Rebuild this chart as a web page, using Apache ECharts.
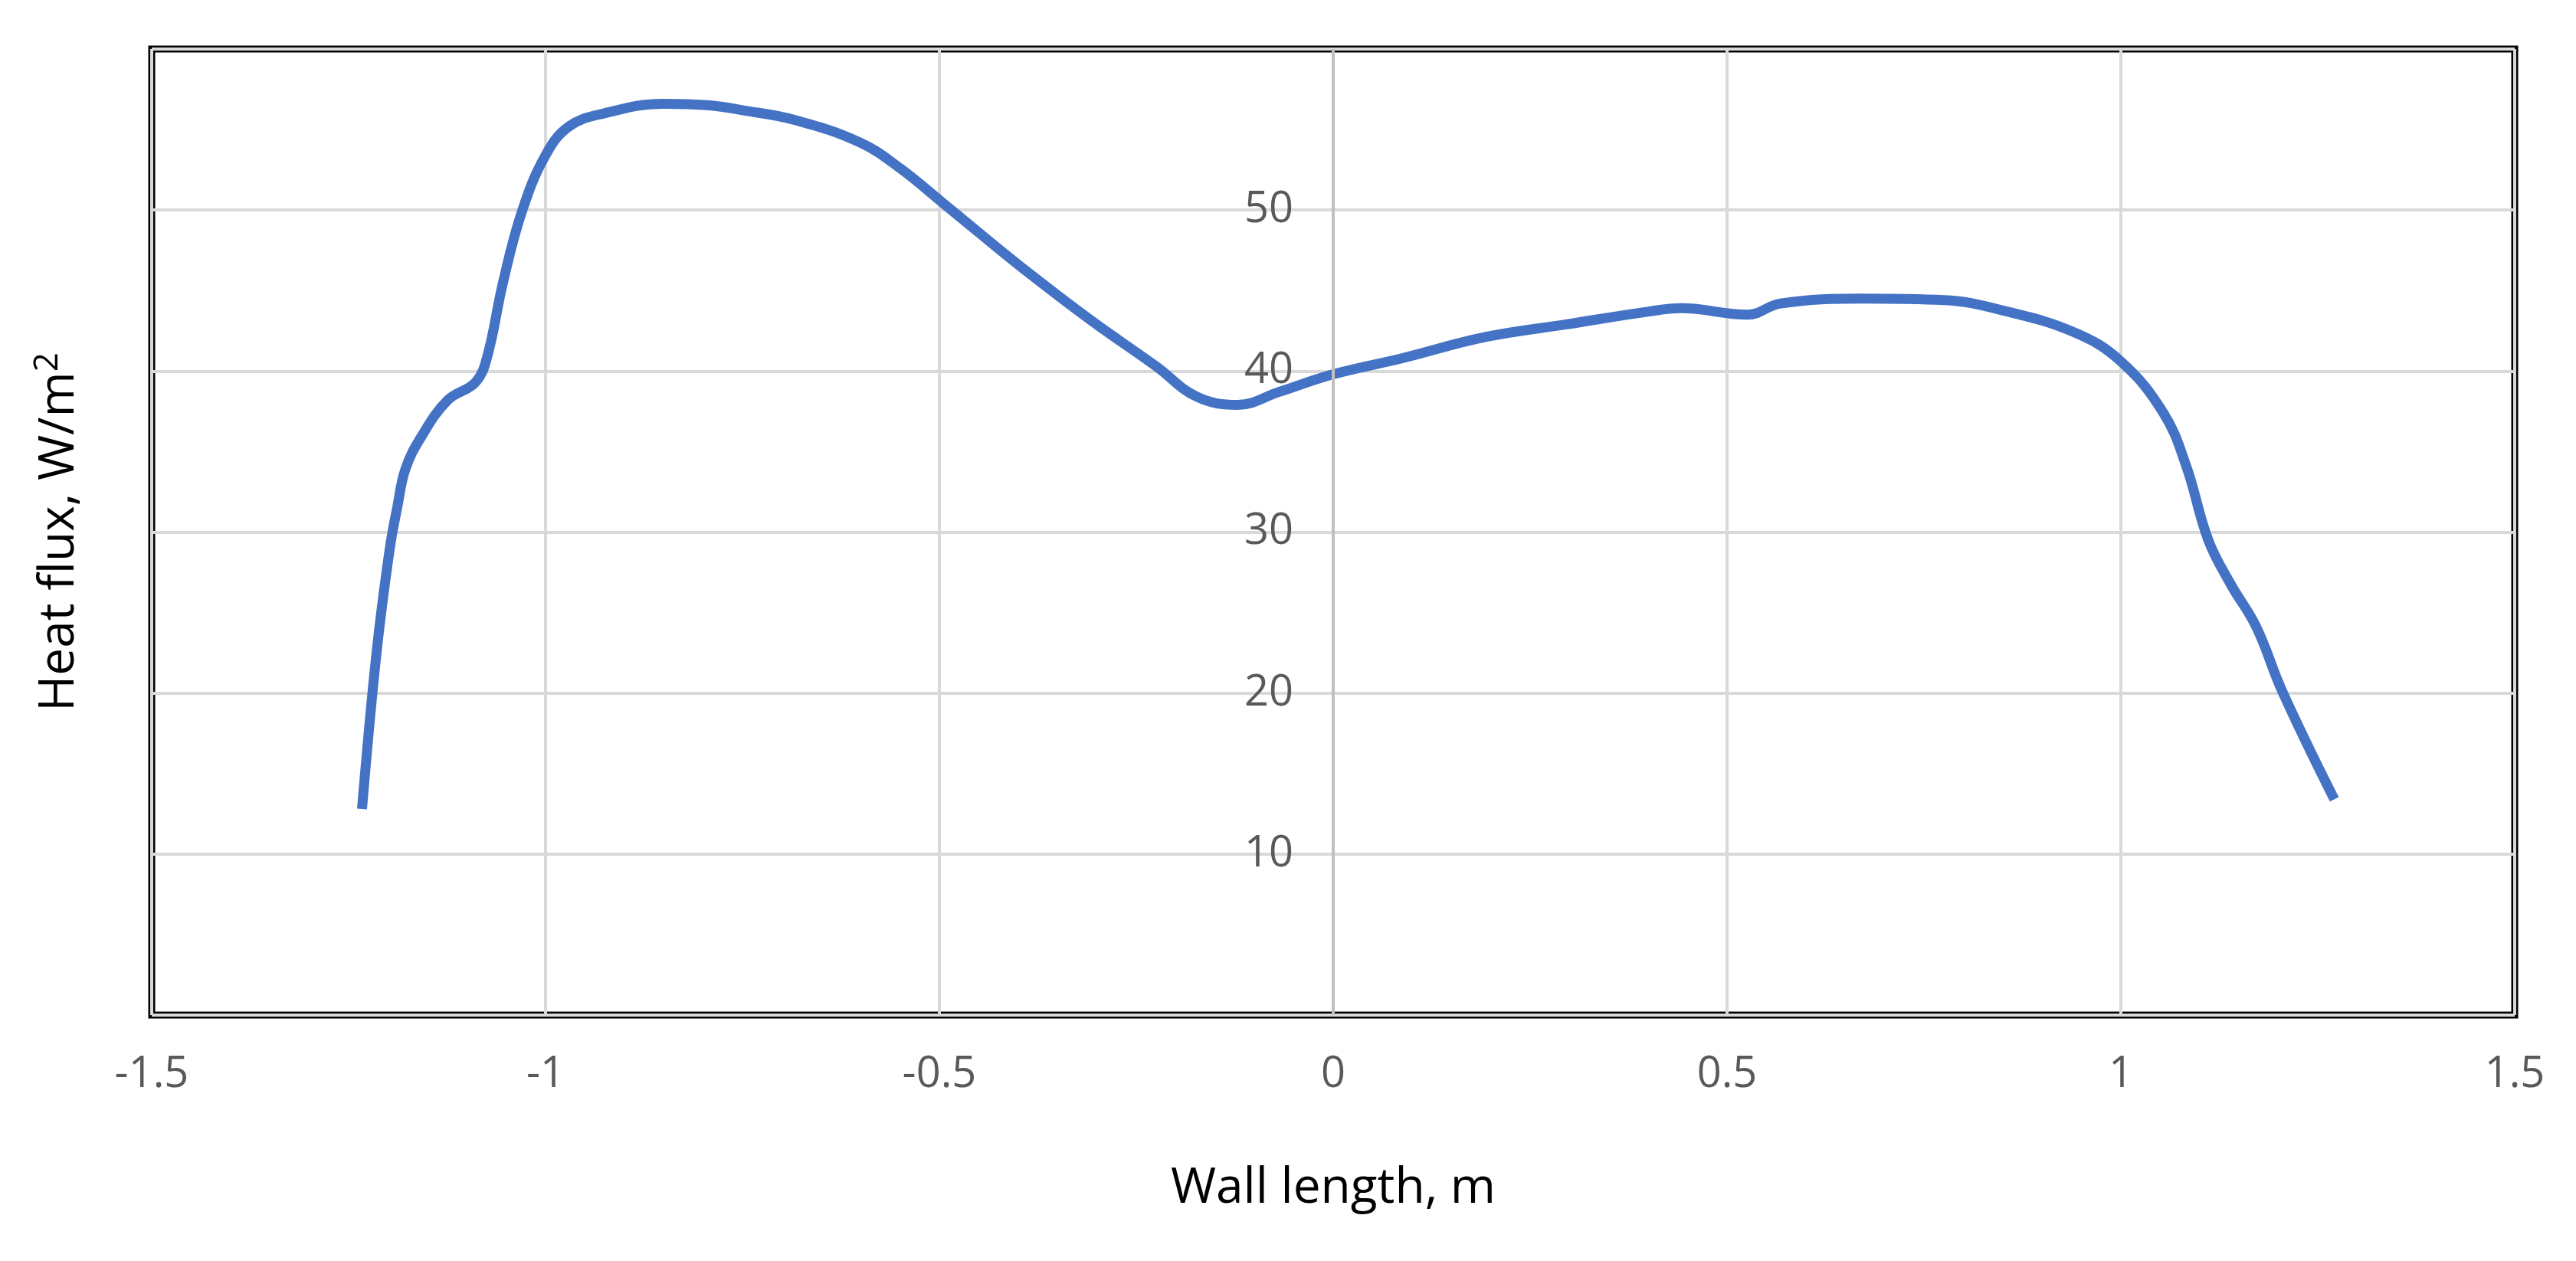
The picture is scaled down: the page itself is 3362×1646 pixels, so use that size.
<!DOCTYPE html>
<html>
<head>
<meta charset="utf-8">
<script src="https://cdn.jsdelivr.net/npm/echarts@6/dist/echarts.min.js"></script>
<style>html,body{margin:0;background:#fff}#c{width:3362px;height:1646px}</style>
</head>
<body>
<div id="c"></div>
<script>
var wallX = [-1.233,-1.215,-1.198,-1.188,-1.178,-1.158,-1.124,-1.089,-1.074,-1.054,-1.030,-1.000,-0.970,-0.926,-0.851,-0.792,
	-0.75,-0.684,-0.601,-0.55,-0.497,-0.45,-0.392,-0.309,-0.225,-0.173,-0.121,-0.069,0,0.088,0.192,0.296,0.401,0.442,0.526,0.568,0.672,0.776,
	0.847,0.941,1.0,1.054,1.083,1.111,1.139,1.172,1.205,1.271];
var heatFlux = [12.8,22.3,28.9,31.6,33.9,35.9,38.2,39.3,40.9,45.5,49.9,53.4,55.2,56.0,56.6,56.5,
	56.2,55.6,54.2,52.6,50.5,48.6,46.3,43.2,40.3,38.4,37.9,38.7,39.8,40.8,42.1,42.9,43.7,43.9,43.5,44.2,44.5,44.4,
	43.8,42.4,40.6,37.4,34.1,29.5,26.8,24.1,20.1,13.4];
var yTicks = [10,20,30,40,50];

var pts = wallX.map(function(x,i){ return [x, heatFlux[i]]; });
var chart = echarts.init(document.getElementById('c'));
var font = 'Open Sans';
chart.setOption({
	animation:false,
	grid:{left:198, right:80, top:64, bottom:321, show:true, borderColor:'#000', borderWidth:9},
	xAxis:{
		type:'value', min:-1.5, max:1.5, interval:0.5,
		name:'Wall length, m', nameLocation:'middle', nameGap:195,
		nameTextStyle:{fontFamily:font, fontSize:64, color:'#000'},
		axisLine:{show:false}, axisTick:{show:false},
		axisLabel:{fontFamily:font, fontSize:56, color:'#595959', margin:50},
		splitLine:{lineStyle:{color:'#d9d9d9', width:4}}
	},
	yAxis:{
		type:'value', min:0, max:60, interval:10,
		name:'{a|Heat flux, W/m}{s|2}', nameLocation:'middle', nameGap:82,
		nameTextStyle:{rich:{a:{fontFamily:font, fontSize:64, color:'#000'},
			s:{fontFamily:font, fontSize:44, color:'#000', verticalAlign:'top', padding:[0,0,32,0]}}},
		axisLine:{show:false}, axisTick:{show:false},
		axisLabel:{fontFamily:font, fontSize:56, color:'#595959', margin:-1490,
			formatter:function(v){ return yTicks.indexOf(v) >= 0 ? String(v) : ''; }},
		splitLine:{lineStyle:{color:'#d9d9d9', width:4}}
	},
	series:[{
		type:'line', data:pts, smooth:0.4, showSymbol:false,
		lineStyle:{color:'#4472C4', width:13},
		markLine:{silent:true, symbol:'none', label:{show:false},
			lineStyle:{color:'#bfbfbf', width:4, type:'solid'}, data:[{xAxis:0}]}
	}]
});
</script>
</body>
</html>
